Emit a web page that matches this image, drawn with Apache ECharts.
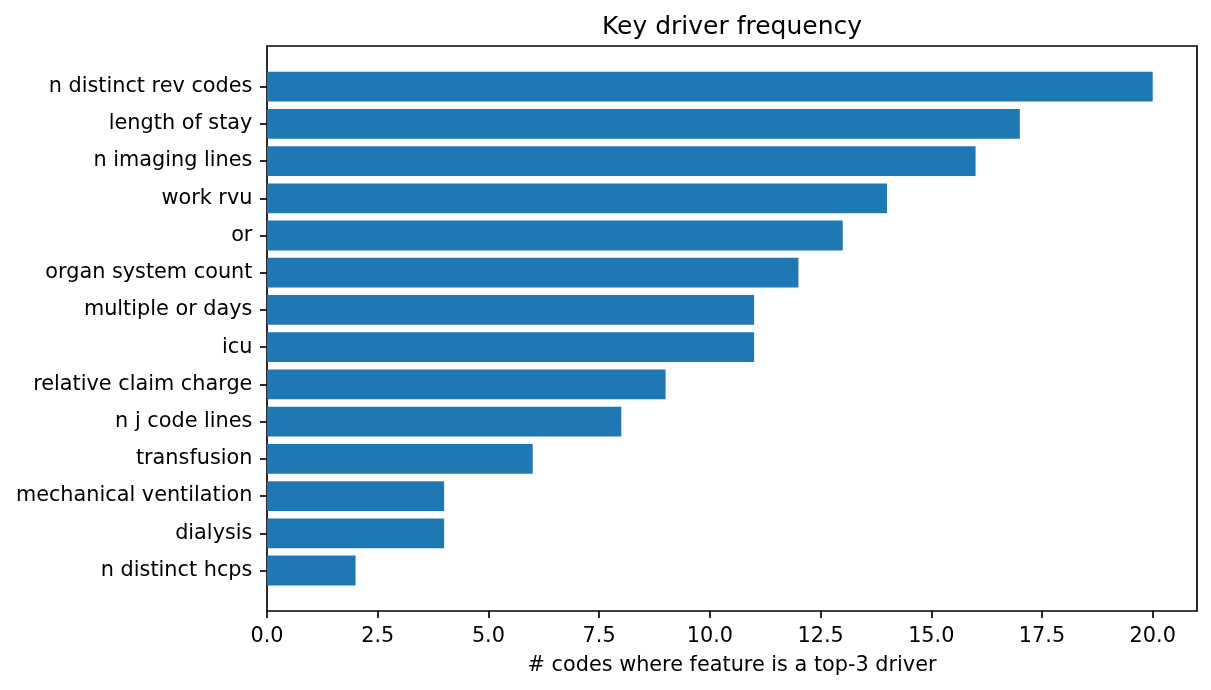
<!DOCTYPE html>
<html>
<head>
<meta charset="utf-8">
<script src="https://cdn.jsdelivr.net/npm/echarts@6/dist/echarts.min.js"></script>
<style>
html,body{margin:0;padding:0;background:#fff;}
#chart{width:1211px;height:690px;}
</style>
</head>
<body>
<div id="chart"></div>
<script>
const categories = ["n distinct rev codes","length of stay","n imaging lines","work rvu","or","organ system count","multiple or days","icu","relative claim charge","n j code lines","transfusion","mechanical ventilation","dialysis","n distinct hcps"];
const values = [20,17,16,14,13,12,11,11,9,8,6,4,4,2];
const xTicks = [0,2.5,5,7.5,10,12.5,15,17.5,20];

const FONT = 'DejaVu Sans';
const chart = echarts.init(document.getElementById('chart'), null, {renderer:'canvas'});
chart.setOption({
  animation:false,
  backgroundColor:'#ffffff',
  title:{
    text:'Key driver frequency',
    left:727, top:10, textAlign:'center',
    textStyle:{fontFamily:FONT,fontSize:25,fontWeight:'normal',color:'#000'}
  },
  grid:[
    {left:267, width:930, top:68, height:521.1, containLabel:false},
    {left:267, width:930, top:46, height:565, show:true, borderColor:'#000', borderWidth:1.67, backgroundColor:'transparent'}
  ],
  xAxis:[
    {type:'value', gridIndex:0, min:0, max:21, offset:22,
     name:'# codes where feature is a top-3 driver', nameLocation:'middle', nameGap:44,
     nameTextStyle:{fontFamily:FONT,fontSize:20.8,color:'#000'},
     axisLine:{show:false},
     axisTick:{show:true,inside:false,length:7,lineStyle:{color:'#000',width:1.67},customValues:xTicks},
     axisLabel:{fontFamily:FONT,fontSize:20.8,color:'#000',margin:14.6,customValues:xTicks,formatter:v=>v.toFixed(1)},
     splitLine:{show:false}},
    {type:'value', gridIndex:1, show:false, min:0, max:1}
  ],
  yAxis:[
    {type:'category', gridIndex:0, data:categories, inverse:true,
     axisLine:{show:false},
     axisTick:{show:true,inside:false,length:7,alignWithLabel:true,lineStyle:{color:'#000',width:1.67}},
     axisLabel:{fontFamily:FONT,fontSize:20.8,color:'#000',margin:14.6,padding:[3,0,0,0]},
     splitLine:{show:false}},
    {type:'value', gridIndex:1, show:false, min:0, max:1}
  ],
  series:[{
    type:'bar', xAxisIndex:0, yAxisIndex:0, data:values, barWidth:'80%',
    itemStyle:{color:'#1f77b4'}
  }]
});
</script>
</body>
</html>
